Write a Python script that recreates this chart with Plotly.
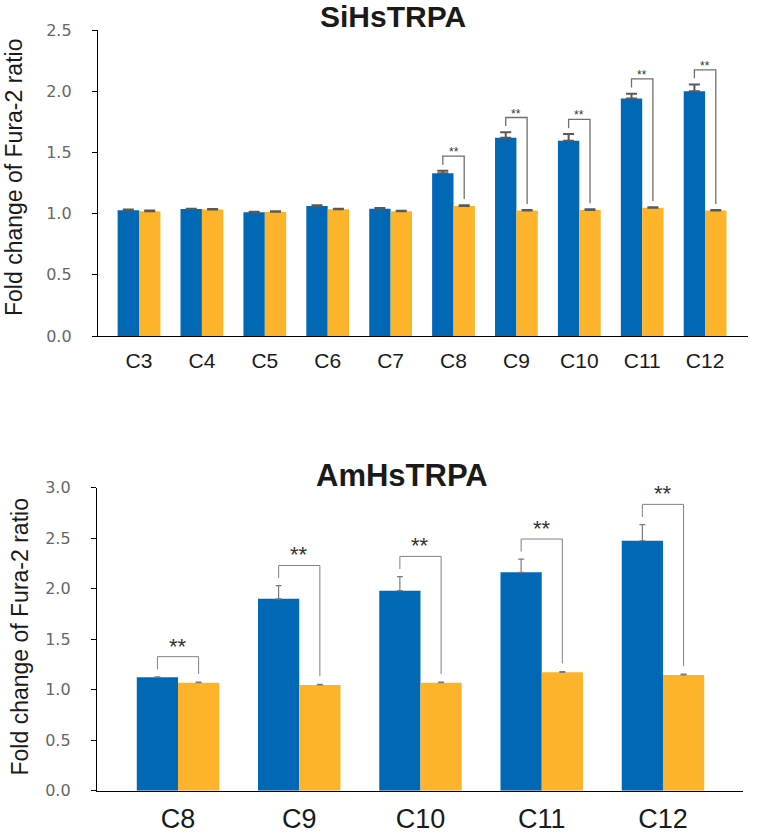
import plotly.graph_objects as go

# ---------------- data ----------------
top_categories = ["C3", "C4", "C5", "C6", "C7", "C8", "C9", "C10", "C11", "C12"]
top_blue = [1.027, 1.037, 1.012, 1.062, 1.040, 1.330, 1.620, 1.595, 1.940, 2.000]
top_blue_err = [0.006, 0.003, 0.003, 0.006, 0.006, 0.020, 0.045, 0.055, 0.040, 0.055]
top_yellow = [1.020, 1.033, 1.015, 1.035, 1.020, 1.063, 1.025, 1.030, 1.048, 1.025]
top_yellow_err = [0.005, 0.005, 0.005, 0.004, 0.003, 0.006, 0.004, 0.005, 0.004, 0.004]
top_sig = ["", "", "", "", "", "**", "**", "**", "**", "**"]
top_yticks = [0.0, 0.5, 1.0, 1.5, 2.0, 2.5]

bot_categories = ["C8", "C9", "C10", "C11", "C12"]
bot_blue = [1.123, 1.900, 1.980, 2.162, 2.475]
bot_blue_err = [0.004, 0.130, 0.140, 0.130, 0.160]
bot_yellow = [1.070, 1.047, 1.070, 1.172, 1.146]
bot_yellow_err = [0.006, 0.006, 0.006, 0.008, 0.008]
bot_sig = ["**", "**", "**", "**", "**"]
bot_yticks = [0.0, 0.5, 1.0, 1.5, 2.0, 2.5, 3.0]

titles = ["SiHsTRPA", "AmHsTRPA"]
ytitle = "Fold change of Fura-2 ratio"

# ---------------- style ----------------
BLUE = "#0068B5"
GOLD = "#FDB42A"
W, H = 773, 836
BARGAP = 0.32
half = (1 - BARGAP) / 4.0  # offset of each bar centre from category centre


def px_x(p):
    return p / W


def px_y(p):
    return 1 - p / H


fig = go.Figure()

panels = [
    dict(cats=top_categories, b=top_blue, be=top_blue_err, yv=top_yellow, ye=top_yellow_err,
         sig=top_sig, xa="x", ya="y", errw=5.5, errt=2, errc="#595959",
         leg_l=0.05, leg_top=0.12, leg_r=0.05, star_size=12, star_shift=-5,
         br_w=1.3, br_c="#6f6f6f"),
    dict(cats=bot_categories, b=bot_blue, be=bot_blue_err, yv=bot_yellow, ye=bot_yellow_err,
         sig=bot_sig, xa="x2", ya="y2", errw=3, errt=1.2, errc="#7a7a7a",
         leg_l=0.075, leg_top=0.2, leg_r=0.08, star_size=22, star_shift=-4,
         br_w=1.0, br_c="#808080"),
]

annotations = []
for p in panels:
    xs = list(range(len(p["cats"])))
    fig.add_trace(go.Bar(
        x=xs, y=p["b"], xaxis=p["xa"], yaxis=p["ya"],
        marker=dict(color=BLUE, line=dict(width=0)),
        error_y=dict(type="data", array=p["be"], arrayminus=[0] * len(xs), symmetric=False,
                     color=p["errc"], thickness=p["errt"], width=p["errw"]),
        showlegend=False, hoverinfo="skip"))
    fig.add_trace(go.Bar(
        x=xs, y=p["yv"], xaxis=p["xa"], yaxis=p["ya"],
        marker=dict(color=GOLD, line=dict(width=0)),
        error_y=dict(type="data", array=p["ye"], arrayminus=[0] * len(xs), symmetric=False,
                     color=p["errc"], thickness=p["errt"], width=p["errw"]),
        showlegend=False, hoverinfo="skip"))
    # significance brackets
    bx, by = [], []
    for i, s in enumerate(p["sig"]):
        if not s:
            continue
        xl, xr = i - half, i + half
        yl = p["b"][i] + p["be"][i] + p["leg_l"]
        yt = p["b"][i] + p["be"][i] + p["leg_top"]
        yr = p["yv"][i] + p["ye"][i] + p["leg_r"]
        bx += [xl, xl, xr, xr, None]
        by += [yl, yt, yt, yr, None]
        annotations.append(dict(x=i, y=yt, xref=p["xa"], yref=p["ya"], text=s,
                                showarrow=False, yanchor="bottom", yshift=p["star_shift"],
                                font=dict(family="Liberation Sans, Arial", size=p["star_size"],
                                          color="#333333")))
    fig.add_trace(go.Scatter(x=bx, y=by, xaxis=p["xa"], yaxis=p["ya"], mode="lines",
                             line=dict(color=p["br_c"], width=p["br_w"]),
                             showlegend=False, hoverinfo="skip"))

# titles
annotations.append(dict(x=px_x(393), y=px_y(16.5), xref="paper", yref="paper", text="<b>%s</b>" % titles[0],
                        showarrow=False, xanchor="center", yanchor="middle",
                        font=dict(family="Liberation Sans, Arial", size=30, color="#1a1a1a")))
annotations.append(dict(x=px_x(402), y=px_y(475.5), xref="paper", yref="paper", text="<b>%s</b>" % titles[1],
                        showarrow=False, xanchor="center", yanchor="middle",
                        font=dict(family="Liberation Sans, Arial", size=31, color="#1a1a1a")))
annotations.append(dict(x=px_x(14), y=px_y(178), xref="paper", yref="paper", text=ytitle,
                        showarrow=False, textangle=-90, xanchor="center", yanchor="middle",
                        font=dict(family="Liberation Sans, Arial", size=23, color="#1a1a1a")))
annotations.append(dict(x=px_x(19), y=px_y(637.5), xref="paper", yref="paper", text=ytitle,
                        showarrow=False, textangle=-90, xanchor="center", yanchor="middle",
                        font=dict(family="Liberation Sans, Arial", size=23, color="#1a1a1a")))

ytick_font = dict(family="DejaVu Sans", size=16, color="#666666")

fig.update_layout(
    width=W, height=H,
    margin=dict(l=0, r=0, t=0, b=0),
    paper_bgcolor="white", plot_bgcolor="white",
    barmode="group", bargap=BARGAP, bargroupgap=0,
    showlegend=False,
    annotations=annotations,
    xaxis=dict(domain=[px_x(98), px_x(748)], anchor="y",
               range=[-0.652, 9.682], tickmode="array",
               tickvals=list(range(len(top_categories))), ticktext=top_categories,
               showline=True, linecolor="#000000", linewidth=1.3, ticks="",
               showgrid=False, zeroline=False, automargin=False,
               tickfont=dict(family="Liberation Sans, Arial", size=21, color="#1a1a1a"),
               ticklabelstandoff=6),
    yaxis=dict(domain=[px_y(336), px_y(30)], anchor="x",
               range=[0, 2.5], tickmode="array", tickvals=top_yticks,
               ticktext=["%.1f" % v for v in top_yticks],
               showline=True, linecolor="#000000", linewidth=1.3,
               ticks="outside", ticklen=5, tickcolor="#000000", tickwidth=1.3,
               showgrid=False, zeroline=False, automargin=False,
               tickfont=ytick_font, ticklabelstandoff=17),
    xaxis2=dict(domain=[px_x(97), px_x(743)], anchor="y2",
                range=[-0.668, 4.66], tickmode="array",
                tickvals=list(range(len(bot_categories))), ticktext=bot_categories,
                showline=True, linecolor="#000000", linewidth=1.3, ticks="",
                showgrid=False, zeroline=False, automargin=False,
                tickfont=dict(family="Liberation Sans, Arial", size=27, color="#1a1a1a"),
                ticklabelstandoff=4),
    yaxis2=dict(domain=[px_y(790.7), px_y(487.7)], anchor="x2",
                range=[0, 3.0], tickmode="array", tickvals=bot_yticks,
                ticktext=["%.1f" % v for v in bot_yticks],
                showline=True, linecolor="#000000", linewidth=1.3,
                ticks="outside", ticklen=5, tickcolor="#000000", tickwidth=1.3,
                showgrid=False, zeroline=False, automargin=False,
                tickfont=ytick_font, ticklabelstandoff=17),
)

# remove the browser's default 8px body margin so the figure fills the window exactly
fig.write_html("out.html",
               config={"displayModeBar": False},
               post_script="document.body.style.margin='0px';document.body.style.overflow='hidden';")
